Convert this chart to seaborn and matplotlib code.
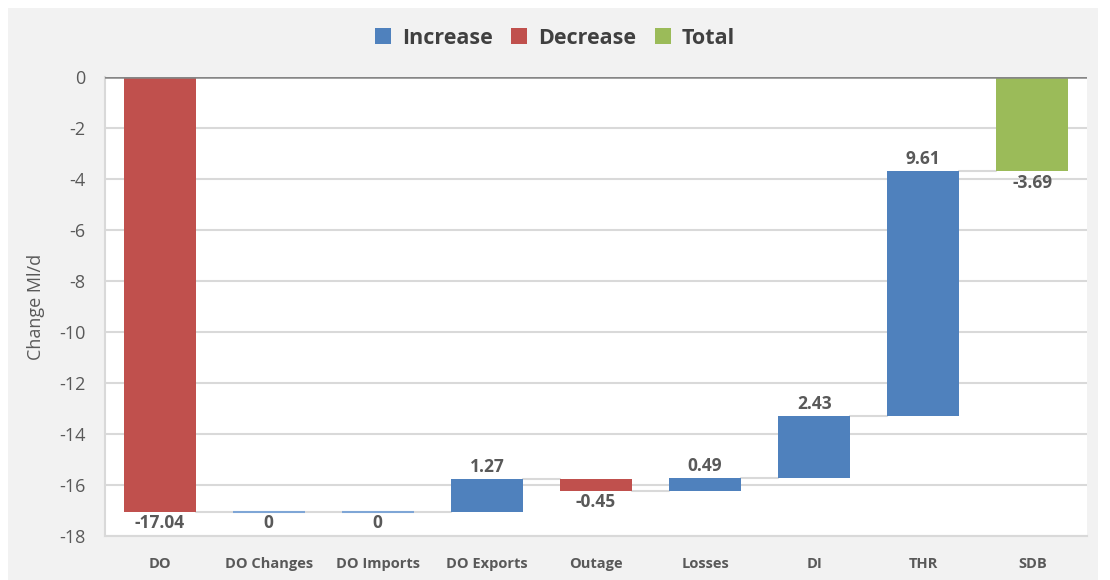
import matplotlib
matplotlib.use("Agg")
import matplotlib.pyplot as plt
from matplotlib.patches import Patch, Rectangle
import numpy as np
import pandas as pd
import seaborn as sns

# ---- data ----
categories = ["DO", "DO Changes", "DO Imports", "DO Exports", "Outage",
              "Losses", "DI", "THR", "SDB"]
changes = [-17.04, 0, 0, 1.27, -0.45, 0.49, 2.43, 9.61, -3.69]
kinds = ["Decrease", "Increase", "Increase", "Increase", "Decrease",
         "Increase", "Increase", "Increase", "Total"]
y_ticks = [0, -2, -4, -6, -8, -10, -12, -14, -16, -18]

# ---- waterfall geometry ----
bottoms, heights, levels = [], [], []
run = 0.0
for v, k in zip(changes, kinds):
    if k == "Total":
        bottoms.append(0.0)
        heights.append(v)
        run = v
    else:
        bottoms.append(run)
        heights.append(v)
        run = run + v
    levels.append(run)

df = pd.DataFrame({"cat": categories, "h": heights, "kind": kinds})

BLUE, RED, GREEN = "#4f81bd", "#c0504d", "#9bbb59"
palette = {"Increase": BLUE, "Decrease": RED, "Total": GREEN}
TXT = "#595959"

sns.set_theme(style="white")
plt.rcParams["font.family"] = ["Open Sans", "DejaVu Sans"]

fig = plt.figure(figsize=(11.1, 5.8), dpi=100, facecolor="white")
fig.patches.append(Rectangle((8 / 1110, 0), (1098 - 8) / 1110, (580 - 8) / 580,
                             transform=fig.transFigure, facecolor="#f2f2f2",
                             edgecolor="none", zorder=-10))
ax = fig.add_axes([105 / 1110, 1 - 536 / 580, (1087 - 105) / 1110, (536 - 77) / 580])
ax.set_facecolor("white")

W = 0.66
sns.barplot(data=df, x="cat", y="h", hue="kind", palette=palette,
            hue_order=["Increase", "Decrease", "Total"], order=categories,
            width=W, dodge=False, legend=False, ax=ax, saturation=1,
            linewidth=0, zorder=3)

for p in ax.patches:
    i = int(round(p.get_x() + p.get_width() / 2))
    p.set_y(bottoms[i])
    p.set_height(heights[i])
    if heights[i] == 0:
        p.set_edgecolor("#7fa6d6")
        p.set_linewidth(1.5)

# connectors
for i in range(len(categories) - 1):
    ax.plot([i + W / 2, i + 1 - W / 2], [levels[i], levels[i]],
            color="#d9d9d9", lw=1.5, zorder=2)

# data labels
for i, (v, k) in enumerate(zip(changes, kinds)):
    lab = "0" if v == 0 else f"{v:.2f}"
    if k == "Increase" and v > 0:
        y = bottoms[i] + heights[i]
        ax.text(i, y + 0.12, lab, ha="center", va="bottom", fontsize=12.5,
                fontweight="bold", color=TXT, zorder=5)
    else:
        y = min(bottoms[i], bottoms[i] + heights[i])
        ax.text(i, y - 0.1, lab, ha="center", va="top", fontsize=12.5,
                fontweight="bold", color=TXT, zorder=5)

ax.set_xlim(-0.5, len(categories) - 0.5)
ax.set_ylim(-18, 0)
ax.set_yticks(y_ticks)
ax.set_yticklabels([str(t) for t in y_ticks])
ax.yaxis.grid(True, color="#d9d9d9", lw=1.5, zorder=0)
ax.set_axisbelow(True)
ax.axhline(0, color="#868686", lw=1.8, zorder=4)
for s in ["top", "right"]:
    ax.spines[s].set_visible(False)
ax.spines["left"].set_color("#d9d9d9")
ax.spines["left"].set_linewidth(1.5)
ax.spines["bottom"].set_color("#d9d9d9")
ax.spines["bottom"].set_linewidth(1.5)

ax.tick_params(axis="y", labelsize=13, labelcolor=TXT, length=0, pad=14)
ax.tick_params(axis="x", labelsize=10.5, labelcolor=TXT, length=0, pad=15)
for t in ax.get_xticklabels():
    t.set_fontweight("bold")
ax.set_xlabel("")
ax.set_ylabel("Change Ml/d", fontsize=13, color=TXT, labelpad=10)

handles = [Patch(facecolor=palette[k], edgecolor="none") for k in ["Increase", "Decrease", "Total"]]
leg = fig.legend(handles, ["Increase", "Decrease", "Total"], loc="center",
                 bbox_to_anchor=(0.5, 1 - 38 / 580), ncol=3, frameon=False,
                 prop={"size": 15.5, "weight": "bold"}, handlelength=0.75,
                 handleheight=0.75, handletextpad=0.5, columnspacing=0.85)
for t in leg.get_texts():
    t.set_color("#404040")

fig.savefig("out.png", dpi=100, facecolor="white")
